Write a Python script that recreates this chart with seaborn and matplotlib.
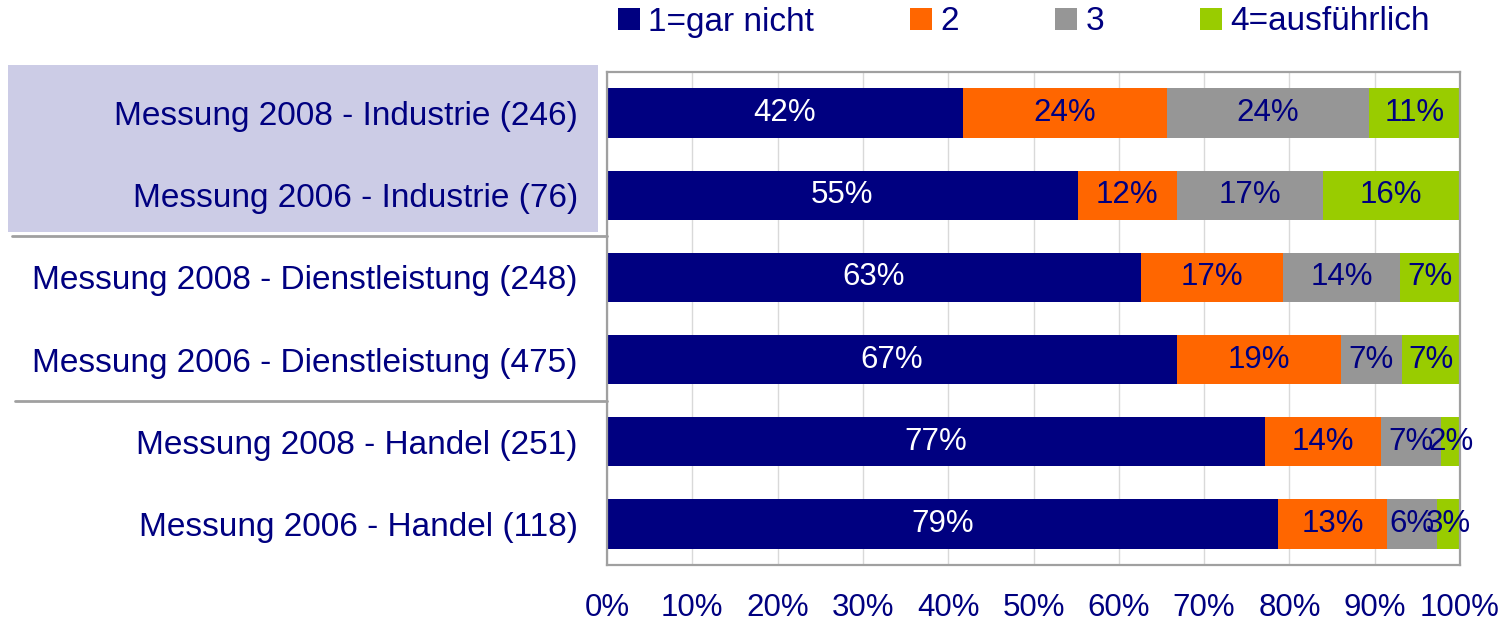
import numpy as np
import pandas as pd
import matplotlib
matplotlib.use("Agg")
import matplotlib.pyplot as plt
import matplotlib.transforms as mtransforms
from matplotlib.patches import Rectangle, Patch
import seaborn as sns

categories = [
    "Messung 2008 - Industrie (246)",
    "Messung 2006 - Industrie (76)",
    "Messung 2008 - Dienstleistung (248)",
    "Messung 2006 - Dienstleistung (475)",
    "Messung 2008 - Handel (251)",
    "Messung 2006 - Handel (118)",
]
series_names = ["1=gar nicht", "2", "3", "4=ausführlich"]
s1 = [41.7, 55.2, 62.6, 66.8, 77.1, 78.7]
s2 = [24.0, 11.6, 16.7, 19.2, 13.6, 12.7]
s3 = [23.6, 17.1, 13.7, 7.2, 7.1, 5.9]
s4 = [10.7, 16.1, 7.0, 6.8, 2.2, 2.7]
xticks = [0, 10, 20, 30, 40, 50, 60, 70, 80, 90, 100]

colors = ["#000080", "#FF6600", "#969696", "#99CC00"]
label_colors = ["white", "#000080", "#000080", "#000080"]
NAVY = "#000080"
GREY = "#A0A0A0"

sns.set_style("white")
plt.rcParams["font.family"] = ["Liberation Sans", "DejaVu Sans"]

df = pd.DataFrame({"Kategorie": categories, "s1": s1, "s2": s2, "s3": s3, "s4": s4})
cols = ["s1", "s2", "s3", "s4"]
cum = df[cols].cumsum(axis=1)
for c in cols:
    df["cum_" + c] = cum[c]

fig = plt.figure(figsize=(14.99, 6.21), dpi=100)
ax = fig.add_axes([607 / 1499, 1 - 565 / 621, (1460 - 607) / 1499, (565 - 72) / 621])
ax.patch.set_alpha(0)

# background lavender box behind the first two labels
box = Rectangle((8 / 1499, 1 - 232 / 621), (598 - 8) / 1499, (232 - 65) / 621,
                transform=fig.transFigure, facecolor="#CCCCE6",
                edgecolor="none", zorder=-5)
fig.add_artist(box)

# stacked bars: draw cumulative totals from back to front
for c, col in reversed(list(zip(cols, colors))):
    sns.barplot(data=df, x="cum_" + c, y="Kategorie", orient="h", color=col,
                saturation=1, width=0.6, ax=ax, edgecolor="none", linewidth=0, zorder=2)

# data labels
for i in range(len(categories)):
    left = 0
    for j, c in enumerate(cols):
        v = df[c].iloc[i]
        ax.text(left + v / 2, i, f"{v:.0f}%", ha="center", va="center",
                color=label_colors[j], fontsize=22.5, zorder=5)
        left += v

ax.set_xlim(0, 100)
ax.set_ylim(5.5, -0.5)
ax.set_xticks(xticks)
ax.set_xticklabels([f"{t}%" for t in xticks], color=NAVY, fontsize=22.5)
ax.set_xlabel("")
ax.set_ylabel("")
ax.tick_params(axis="x", length=6, width=1.5, color=GREY, pad=14, direction="out")
ax.tick_params(axis="y", which="major", length=0, pad=21, labelsize=24, labelcolor=NAVY)
ax.set_yticks(np.arange(-0.5, 6, 1.0), minor=True)
ax.tick_params(axis="y", which="minor", length=6, width=1.5, color=GREY, direction="out")

ax.xaxis.grid(True, color="#D9D9D9", linewidth=1)
ax.yaxis.grid(False)
ax.set_axisbelow(True)
for s in ax.spines.values():
    s.set_visible(True)
    s.set_color(GREY)
    s.set_linewidth(1.6)

# group separator lines extending into the label area
trans = mtransforms.blended_transform_factory(ax.transAxes, ax.transData)
for y, x0 in [(1.5, -0.698), (3.5, -0.694)]:
    ax.plot([x0, 0], [y, y], transform=trans, color=GREY, linewidth=2, clip_on=False, zorder=3)

# legend
handles = [Patch(facecolor=col, edgecolor="none") for col in colors]
leg = fig.legend(handles, series_names, loc="center", ncol=4,
                 bbox_to_anchor=(1024 / 1499, 1 - 22 / 621), frameon=False,
                 fontsize=24, handlelength=0.66, handleheight=0.66,
                 handletextpad=0.25, columnspacing=2.88, borderaxespad=0)
for t in leg.get_texts():
    t.set_color(NAVY)

fig.savefig("out.png", dpi=100)
